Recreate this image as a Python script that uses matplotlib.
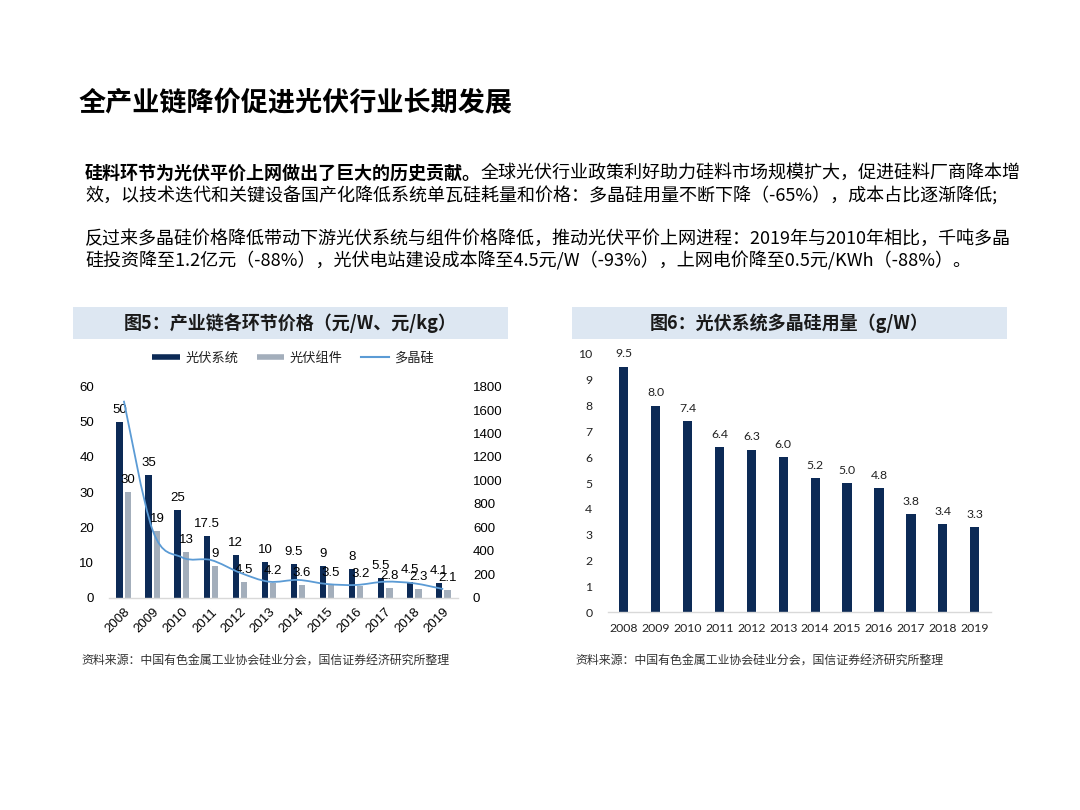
import numpy as np
import matplotlib
matplotlib.use('Agg')
import matplotlib.pyplot as plt
from matplotlib.path import Path
from matplotlib.patches import PathPatch, Rectangle
from matplotlib.lines import Line2D

# ---------------- data ----------------
years = ['2008', '2009', '2010', '2011', '2012', '2013',
         '2014', '2015', '2016', '2017', '2018', '2019']
system_price = [50, 35, 25, 17.5, 12, 10, 9.5, 9, 8, 5.5, 4.5, 4.1]      # 光伏系统 元/W
module_price = [30, 19, 13, 9, 4.5, 4.2, 3.6, 3.5, 3.2, 2.8, 2.3, 2.1]    # 光伏组件 元/W
poly_price = [1680, 570, 343, 320, 212, 135, 150, 115, 107, 135, 121, 72]  # 多晶硅 元/kg
poly_usage = [9.5, 8.0, 7.4, 6.4, 6.3, 6.0, 5.2, 5.0, 4.8, 3.8, 3.4, 3.3]  # g/W

series_names = ['光伏系统', '光伏组件', '多晶硅']
title = '全产业链降价促进光伏行业长期发展'
body_bold = '硅料环节为光伏平价上网做出了巨大的历史贡献。'
body_lines = [
    '全球光伏行业政策利好助力硅料市场规模扩大，促进硅料厂商降本增',
    '效，以技术迭代和关键设备国产化降低系统单瓦硅耗量和价格：多晶硅用量不断下降（-65%），成本占比逐渐降低;',
    '反过来多晶硅价格降低带动下游光伏系统与组件价格降低，推动光伏平价上网进程：2019年与2010年相比，千吨多晶',
    '硅投资降至1.2亿元（-88%），光伏电站建设成本降至4.5元/W（-93%），上网电价降至0.5元/KWh（-88%）。',
]
fig5_title = '图5：产业链各环节价格（元/W、元/kg）'
fig6_title = '图6：光伏系统多晶硅用量（g/W）'
source = '资料来源：中国有色金属工业协会硅业分会，国信证券经济研究所整理'

# ---------------- style ----------------
CJK = ['Noto Sans CJK SC', 'DejaVu Sans']
NUM = ['Liberation Sans', 'Noto Sans CJK SC', 'DejaVu Sans']
NUM2 = ['Lato', 'Noto Sans CJK SC', 'DejaVu Sans']
NAVY = '#0c2a56'
GRAY = '#a3aebb'
LINE = '#5b9bd5'
HEAD = '#dde7f2'
AXIS = '#d9d9d9'

W, H = 1080, 810
def fx(x):
    return x / W
def fy(y):
    return 1 - y / H

fig = plt.figure(figsize=(10.8, 8.1), dpi=100)
fig.patch.set_facecolor('white')

# ---------------- texts ----------------
fig.text(fx(79), fy(103), title, fontsize=19.5, fontweight='bold',
         family=CJK, ha='left', va='center', color='black')

BODY_FS = 13
t0 = fig.text(fx(85), fy(173), body_bold, fontsize=BODY_FS, fontweight='bold',
              family=CJK, ha='left', va='center', color='black')
fig.canvas.draw()
bb = t0.get_window_extent()
fig.text(bb.x1 / W, fy(173), body_lines[0], fontsize=BODY_FS, family=CJK,
         ha='left', va='center', color='black')
for txt, yy in zip(body_lines[1:], [195, 239, 261]):
    fig.text(fx(85), fy(yy), txt, fontsize=BODY_FS, family=CJK,
             ha='left', va='center', color='black')

# header boxes
for (x0, x1), txt in [((73, 508), fig5_title), ((572, 1007), fig6_title)]:
    fig.patches.append(Rectangle((fx(x0), fy(339)), (x1 - x0) / W, 32 / H,
                                 transform=fig.transFigure, facecolor=HEAD,
                                 edgecolor='none', zorder=0))
    fig.text(fx((x0 + x1) / 2), fy(323), txt, fontsize=13, fontweight='bold',
             family=CJK, ha='center', va='center', color='#1a1a1a')

fig.text(fx(81), fy(661), source, fontsize=8.6, family=CJK, ha='left',
         va='center', color='#333333')
fig.text(fx(575), fy(661), source, fontsize=8.6, family=CJK, ha='left',
         va='center', color='#333333')

# ---------------- left chart ----------------
x = np.arange(len(years))
ax = fig.add_axes([109.3 / W, fy(597.5), 348.4 / W, 210.8 / H])
ax.bar(x - 0.14, system_price, 0.23, color=NAVY, zorder=2)
ax.bar(x + 0.14, module_price, 0.23, color=GRAY, zorder=2)
ax.set_xlim(-0.5, len(years) - 0.5)
ax.set_ylim(0, 60)
ax.set_yticks(range(0, 61, 10))
ax.set_xticks(x)
ax.set_xticklabels(years, rotation=45, ha='right', va='top',
                   rotation_mode='anchor', fontsize=9.5, family=NUM)
ax.tick_params(axis='x', length=0, pad=6)
ax.tick_params(axis='y', length=0, pad=11, labelsize=9.5)
for lab in ax.get_yticklabels():
    lab.set_family(NUM)
for s in ['left', 'right', 'top']:
    ax.spines[s].set_visible(False)
ax.spines['bottom'].set_color(AXIS)
ax.spines['bottom'].set_linewidth(1.0)
ax.patch.set_alpha(0)

ax2 = ax.twinx()
ax2.set_ylim(0, 1800)
ax2.set_yticks(range(0, 1801, 200))
ax2.tick_params(axis='y', length=0, pad=11, labelsize=9.5)
for lab in ax2.get_yticklabels():
    lab.set_family(NUM)
for s in ['left', 'right', 'top', 'bottom']:
    ax2.spines[s].set_visible(False)

# smooth line (cubic Bezier through each data point)
pts = np.column_stack([x, poly_price]).astype(float)
n = len(pts)
verts = [tuple(pts[0])]
codes = [Path.MOVETO]
for i in range(n - 1):
    p_prev = pts[max(i - 1, 0)]
    p0 = pts[i]
    p1 = pts[i + 1]
    p_next = pts[min(i + 2, n - 1)]
    c1 = p0 + (p1 - p_prev) / 6.0
    c2 = p1 - (p_next - p0) / 6.0
    verts += [tuple(c1), tuple(c2), tuple(p1)]
    codes += [Path.CURVE4] * 3
ax2.add_patch(PathPatch(Path(verts, codes), facecolor='none', edgecolor=LINE,
                        linewidth=1.3, zorder=3))

for xi, v in zip(x, system_price):
    ax.annotate(f'{v:g}', (xi - 0.14, v), xytext=(0, 6.5), textcoords='offset points',
                ha='center', va='baseline', fontsize=9.5, family=NUM, color='black',
                annotation_clip=False, zorder=5)
for xi, v in zip(x, module_price):
    ax.annotate(f'{v:g}', (xi + 0.14, v), xytext=(0, 6.5), textcoords='offset points',
                ha='center', va='baseline', fontsize=9.5, family=NUM, color='black',
                annotation_clip=False, zorder=5)

handles = [Line2D([], [], color=NAVY, lw=4, solid_capstyle='butt'),
           Line2D([], [], color=GRAY, lw=4, solid_capstyle='butt'),
           Line2D([], [], color=LINE, lw=1.5)]
leg = fig.legend(handles, series_names, loc='center', bbox_to_anchor=(fx(293), fy(358)),
                 ncol=3, frameon=False, handlelength=2.1, handletextpad=0.4,
                 columnspacing=1.4, prop={'family': CJK, 'size': 9.5})
for t in leg.get_texts():
    t.set_color('#222222')

# ---------------- right chart ----------------
bx = fig.add_axes([607.7 / W, fy(612.3), 383 / W, 258.3 / H])
bx.bar(x, poly_usage, 0.29, color=NAVY, zorder=2)
bx.set_xlim(-0.5, len(years) - 0.5)
bx.set_ylim(0, 10)
bx.set_yticks(range(0, 11))
bx.set_xticks(x)
bx.set_xticklabels(years, fontsize=8.8, family=NUM2)
bx.tick_params(axis='x', length=0, pad=8, labelcolor='#222222')
bx.tick_params(axis='y', length=0, pad=11, labelsize=8.8, labelcolor='#222222')
for lab in bx.get_yticklabels():
    lab.set_family(NUM2)
for s in ['left', 'right', 'top']:
    bx.spines[s].set_visible(False)
bx.spines['bottom'].set_color(AXIS)
bx.spines['bottom'].set_linewidth(1.0)
bx.patch.set_alpha(0)
for xi, v in zip(x, poly_usage):
    bx.annotate(f'{v:.1f}', (xi, v), xytext=(0, 6.8), textcoords='offset points',
                ha='center', va='baseline', fontsize=8.8, family=NUM2, color='#222222',
                annotation_clip=False)

fig.savefig('out.png', dpi=100, facecolor='white')
